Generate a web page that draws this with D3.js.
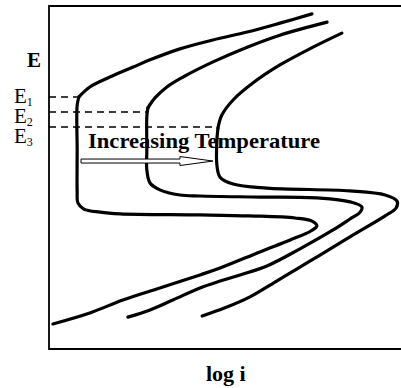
<!DOCTYPE html>
<html>
<head>
<meta charset="utf-8">
<script src="https://cdn.jsdelivr.net/npm/d3@7/dist/d3.min.js"></script>
<style>
  body{margin:0;background:#fff}
  svg{display:block}
  .lbl{font-family:"Liberation Serif","Times New Roman",serif;fill:#000}
</style>
</head>
<body>
<div id="chart"></div>
<script>
// polarization curves, [log i, E] in plot units (0..100 both axes)
var curve1 = [[74.7,97.7],[65.6,95.0],[56.3,92.4],[46.6,90.1],[37.2,87.5],[28.7,84.3],[23.9,82.2],[17.3,79.3],[11.6,76.4],[8.5,73.5],
  [8.0,71.1],[8.0,58.0],[8.0,45.8],[8.2,42.6],[9.9,40.8],[14.5,39.9],[20.2,39.4],[42.9,39.1],[57.1,38.8],[69.9,38.2],[74.7,37.3],[76.1,35.9],
  [74.4,34.4],[68.5,31.8],[59.9,28.3],[48.6,23.6],[42.9,21.6],[31.5,17.8],[21.0,14.3],[11.6,10.5],[1.1,7.3]];
var curve2 = [[79.0,95.3],[65.6,91.5],[56.3,88.0],[46.6,83.7],[38.1,79.3],[33.5,76.4],[30.1,73.2],[28.1,70.3],
  [27.8,67.9],[27.8,58.0],[27.8,52.2],[28.7,48.4],[31.5,46.4],[37.2,44.9],[42.9,44.6],[59.9,44.3],[77.0,44.0],[85.5,42.9],[88.9,41.4],
  [88.4,39.9],[85.5,37.9],[80.7,34.7],[71.3,29.2],[61.9,24.2],[54.3,21.6],[48.6,19.8],[42.9,17.8],[35.2,14.3],[28.7,11.4],[22.4,9.3]];
var curve3 = [[83.2,92.1],[75.0,88.0],[65.6,82.8],[58.0,77.6],[52.3,72.6],[49.1,68.2],[48.0,64.4],
  [47.7,60.9],[47.7,53.6],[48.6,50.1],[52.3,48.1],[61.9,46.9],[85.5,46.1],[95.5,44.9],[98.9,43.1],
  [98.6,41.1],[95.5,38.8],[85.5,32.7],[77.0,27.4],[71.3,23.9],[64.2,19.5],[57.1,15.2],[50.0,12.0],[43.5,9.6]];
var curves = [curve1, curve2, curve3];
// index of the sharp passivation corner in each curve
var cornerIdx = [9, 7, 6];

// passivation potentials and where each dashed guide stops
var eNames = ["1", "2", "3"];
var eLevels = [73.5, 69.1, 64.7];
var eStops = [8.0, 27.8, 48.0];

// temperature arrow
var arrowFrom = 9.1, arrowTo = 46.6, arrowAt = 54.8, arrowHeadAt = 37.2;

var W = 401, H = 388;
var svg = d3.select("#chart").append("svg").attr("width", W).attr("height", H);

var x = d3.scaleLinear().domain([0, 100]).range([49, 401]);
var y = d3.scaleLinear().domain([0, 100]).range([349, 6]);

// frame (right side is cut off in the original)
svg.append("path")
  .attr("d", `M${x(100)},${y(100)}H${x(0)}V${y(0)}H${x(100)}`)
  .attr("fill", "none").attr("stroke", "#000").attr("stroke-width", 1.8);

// dashed guides
svg.selectAll(".guide").data(eLevels).enter().append("line")
  .attr("class", "guide")
  .attr("x1", x(0)).attr("x2", (d, i) => x(eStops[i]))
  .attr("y1", d => y(d)).attr("y2", d => y(d))
  .attr("stroke", "#000").attr("stroke-width", 1.5).attr("stroke-dasharray", "7,5");

// each curve drawn in two pieces so the corner stays sharp
var line = d3.line().x(d => x(d[0])).y(d => y(d[1])).curve(d3.curveCatmullRom.alpha(0.5));
var pieces = [];
curves.forEach((c, i) => {
  pieces.push(c.slice(0, cornerIdx[i] + 1));
  pieces.push(c.slice(cornerIdx[i]));
});
svg.selectAll(".curve").data(pieces).enter().append("path")
  .attr("class", "curve")
  .attr("d", line)
  .attr("fill", "none").attr("stroke", "#000").attr("stroke-width", 3.2)
  .attr("stroke-linejoin", "round").attr("stroke-linecap", "round");

// axis labels
svg.append("text").attr("class", "lbl").attr("x", 27).attr("y", 67)
  .attr("font-size", 21).attr("font-weight", "bold").text("E");
svg.append("text").attr("class", "lbl").attr("x", 206).attr("y", 381)
  .attr("font-size", 22).attr("font-weight", "bold").text("log i");

// E1 E2 E3
var el = svg.selectAll(".elbl").data(eLevels).enter().append("text")
  .attr("class", "lbl elbl")
  .attr("x", 14).attr("y", (d, i) => y(d) + 6 + 5 * i)
  .attr("font-size", 21);
el.append("tspan").text("E");
el.append("tspan").attr("font-size", 12).attr("dy", 3).text((d, i) => eNames[i]);

// arrow (hollow)
var ay = y(arrowAt);
var arrowPts = [[x(arrowFrom), ay - 2], [x(arrowHeadAt), ay - 2], [x(arrowHeadAt), ay - 4.5], [x(arrowTo), ay],
  [x(arrowHeadAt), ay + 4.5], [x(arrowHeadAt), ay + 2], [x(arrowFrom), ay + 2]];
svg.append("polygon")
  .attr("points", arrowPts.map(p => p.join(",")).join(" "))
  .attr("fill", "#fff").attr("stroke", "#000").attr("stroke-width", 1);

svg.append("text").attr("class", "lbl").attr("x", 88).attr("y", 148)
  .attr("font-size", 22).attr("font-weight", "bold")
  .attr("textLength", 232).attr("lengthAdjust", "spacingAndGlyphs")
  .text("Increasing Temperature");
</script>
</body>
</html>
